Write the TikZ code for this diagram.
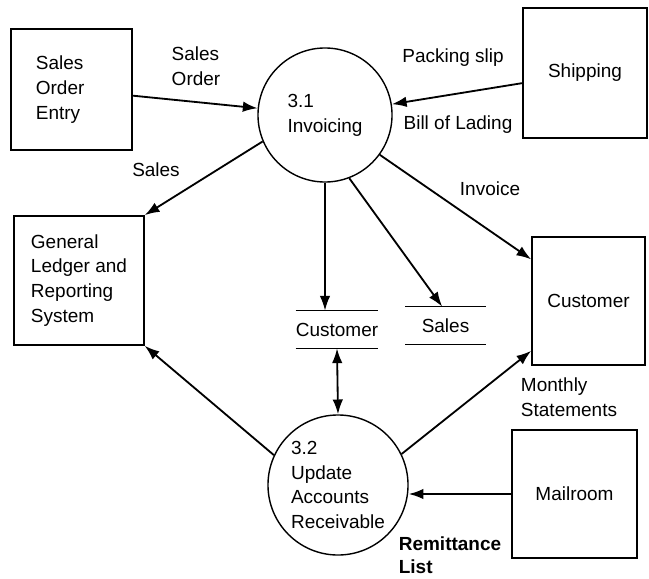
\documentclass[tikz,border=0pt]{standalone}
\usepackage{fontspec}
\setmainfont{Liberation Sans}
\usetikzlibrary{arrows.meta,positioning}

\tikzset{
  ext/.style={draw,line width=1pt,align=center},
  proc/.style={draw,circle,line width=1pt,align=left,inner sep=0pt},
  store/.style={minimum width=2cm,minimum height=0.93cm,inner sep=0pt},
  storeline/.style={line width=1pt},
  lbl/.style={align=left,inner sep=0pt},
  flow/.style={line width=1.3pt,-{Latex[length=10.5pt,width=7.5pt]}}
}

\begin{document}
\begin{tikzpicture}[x=0.025cm,y=-0.025cm,font=\fontsize{13.5pt}{17.7pt}\selectfont]
\useasboundingbox (0,0) rectangle (649,578);

% external entities
\node[ext,minimum width=3.03cm,minimum height=3.03cm,text width=1.78cm,align=left] (soe) at (71.5,89.5) {Sales\\Order\\Entry};
\node[ext,minimum width=3.1cm,minimum height=3.25cm] (ship) at (585,73) {Shipping};
\node[ext,minimum width=3.25cm,minimum height=3.23cm,align=left] (gl) at (79,280.5) {General\\Ledger and\\Reporting\\System};
\node[ext,minimum width=2.83cm,minimum height=3.2cm] (cust) at (588.5,301) {Customer};
\node[ext,minimum width=3.13cm,minimum height=3.2cm] (mail) at (574.5,494) {Mailroom};

% processes
\node[proc,minimum size=3.35cm] (inv) at (325,115) {3.1\\Invoicing};
\node[proc,minimum size=3.5cm] (upd) at (338,485) {3.2\\Update\\Accounts\\Receivable};

% data stores
\node[store] (cst) at (337,329.5) {Customer};
\node[store] (sst) at (445.5,325.5) {Sales};
\draw[storeline] (cst.north west) -- (cst.north east) (cst.south west) -- (cst.south east);
\draw[storeline] (sst.north west) -- (sst.north east) (sst.south west) -- (sst.south east);

% flows
\draw[flow] (soe) -- (inv);
\draw[flow] (ship) -- (inv);
\draw[flow] (inv.203) -- (gl.north east);
\draw[flow] (inv) -- (inv |- cst.north);
\draw[flow] (inv.-69) -- (sst.100);
\draw[flow] (inv.-36) -- (cust.144);
\draw[flow] (upd.155) -- (gl.south east);
\draw[flow] (upd.26) -- (cust.221);
\draw[line width=1.3pt,{Latex[length=10.5pt,width=7.5pt]}-{Latex[length=10.5pt,width=7.5pt]}] (cst.south) -- (upd.north);
\draw[flow] (mail.west) -- (upd.east |- mail.west);

% flow labels
\node[lbl] (lso) at (196,66) {Sales\\Order};
\node[lbl] (lps) at (453,58) {Packing slip};
\node[lbl] (lbl) at (458,125) {Bill of Lading};
\node[lbl] (lsa) at (156,170) {Sales};
\node[lbl] (lin) at (490,189) {Invoice};
\node[lbl] (lms) at (569,397) {Monthly\\Statements};
\node[lbl,font=\fontsize{13.5pt}{16pt}\selectfont\bfseries] (lrl) at (450,555) {Remittance\\List};
\end{tikzpicture}
\end{document}
